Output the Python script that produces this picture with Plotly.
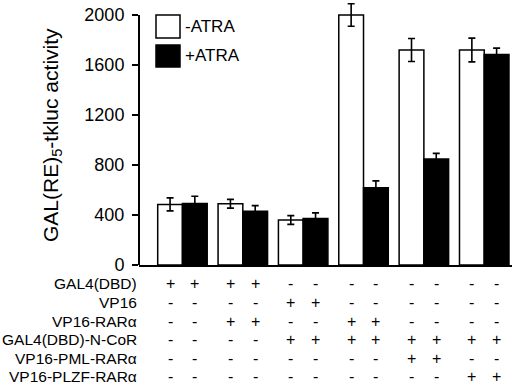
import plotly.graph_objects as go

# ---- data ----
group_pos = [0, 1, 2, 3, 4, 5]
minus_atra = [485, 490, 360, 2000, 1720, 1720]
minus_err = [52, 35, 35, 90, 92, 95]
plus_atra = [492, 430, 372, 618, 848, 1685]
plus_err = [58, 45, 45, 55, 45, 50]
y_ticks = [0, 400, 800, 1200, 1600, 2000]

row_labels = ["GAL4(DBD)", "VP16", "VP16-RARα", "GAL4(DBD)-N-CoR",
              "VP16-PML-RARα", "VP16-PLZF-RARα"]
row_signs = [
    ["+", "+", "+", "+", "-", "-", "-", "-", "-", "-", "-", "-"],
    ["-", "-", "-", "-", "+", "+", "-", "-", "-", "-", "-", "-"],
    ["-", "-", "+", "+", "-", "-", "+", "+", "-", "-", "-", "-"],
    ["-", "-", "-", "-", "+", "+", "+", "+", "+", "+", "+", "+"],
    ["-", "-", "-", "-", "-", "-", "-", "-", "+", "+", "-", "-"],
    ["-", "-", "-", "-", "-", "-", "-", "-", "-", "-", "+", "+"],
]
legend_labels = ["-ATRA", "+ATRA"]

FONT = "Liberation Sans, Arial, sans-serif"
W, H = 520, 387
ML, MR, MT, MB = 139, 8, 3, 122
PW = W - ML - MR
PH = H - MT - MB
Y0 = H - MB  # pixel of y=0


def px_x(px):
    return (px - ML) / PW


def px_y(py):
    return (Y0 - py) / PH


BARGAP = 0.18
half = (1 - BARGAP) / 4

fig = go.Figure()
fig.add_trace(go.Bar(
    x=group_pos, y=minus_atra, name=legend_labels[0],
    marker=dict(color="white", line=dict(color="black", width=1.5)),
    error_y=dict(type="data", array=minus_err, color="black", thickness=1.6, width=3.5),
))
fig.add_trace(go.Bar(
    x=group_pos, y=plus_atra, name=legend_labels[1],
    marker=dict(color="black", line=dict(color="black", width=1.5)),
    error_y=dict(type="data", array=plus_err, color="black", thickness=1.6, width=3.5),
))

annotations = []
shapes = []

# y axis line as shape from 0 to 2000
shapes.append(dict(type="line", xref="paper", yref="y", x0=0, x1=0, y0=0, y1=2000,
                   line=dict(color="black", width=2)))

# custom legend
leg_boxes = [(15, 38, "white"), (45, 67, "black")]
for (t, b, col), lab in zip(leg_boxes, legend_labels):
    shapes.append(dict(type="rect", xref="paper", yref="paper",
                       x0=px_x(156), x1=px_x(180), y0=px_y(b), y1=px_y(t),
                       fillcolor=col, line=dict(color="black", width=1.5)))
    annotations.append(dict(text=lab, xref="paper", yref="paper",
                            x=px_x(183), y=px_y((t + b) / 2), xanchor="left", yanchor="middle",
                            showarrow=False, font=dict(family=FONT, size=17, color="black")))

# y title
annotations.append(dict(text="GAL(RE)<sub>5</sub>-tkluc activity", xref="paper", yref="paper",
                        x=px_x(52), y=px_y(135), xanchor="center", yanchor="middle",
                        textangle=-90, showarrow=False,
                        font=dict(family=FONT, size=21, color="black")))

# table below
row_py = [283, 302, 321, 339.5, 358, 376.5]
col_x = []
for g in group_pos:
    col_x += [g - half, g + half]
for lab, py, signs in zip(row_labels, row_py, row_signs):
    annotations.append(dict(text=lab, xref="paper", yref="paper", x=0, y=px_y(py),
                            xanchor="right", yanchor="middle", showarrow=False,
                            font=dict(family=FONT, size=15.5, color="black")))
    for cx, s in zip(col_x, signs):
        annotations.append(dict(text=s, xref="x", yref="paper", x=cx, y=px_y(py),
                                xanchor="center", yanchor="middle", showarrow=False,
                                font=dict(family=FONT, size=16, color="black")))

fig.update_layout(
    width=W, height=H,
    margin=dict(l=ML, r=MR, t=MT, b=MB, pad=0),
    paper_bgcolor="white", plot_bgcolor="white",
    barmode="group", bargap=BARGAP, bargroupgap=0,
    showlegend=False,
    font=dict(family=FONT, color="black"),
    xaxis=dict(range=[-0.72, 5.46], showticklabels=False, ticks="", showgrid=False,
               zeroline=False, showline=True, linecolor="black", linewidth=2),
    yaxis=dict(range=[0, 2000 * PH / 250], tickvals=y_ticks, ticks="outside", ticklen=6,
               tickwidth=1.5, tickcolor="black", showgrid=False, zeroline=False,
               showline=False, ticklabelstandoff=4,
               tickfont=dict(family=FONT, size=18, color="black")),
    annotations=annotations, shapes=shapes,
)

fig.write_html("out.html", config={"displayModeBar": False},
               post_script="document.body.style.margin='0px';document.body.style.overflow='hidden';")
